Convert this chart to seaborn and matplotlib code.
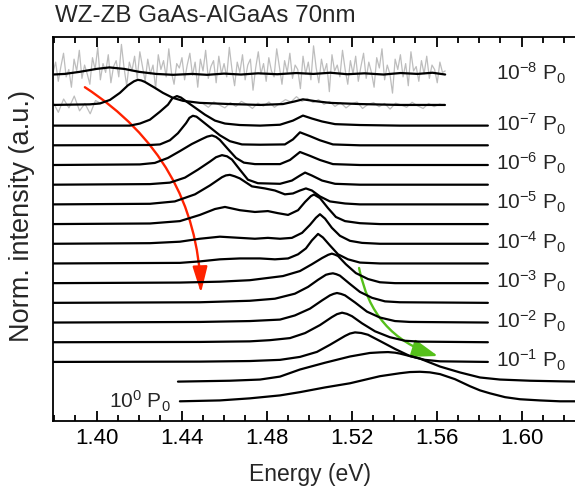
import numpy as np
import matplotlib
matplotlib.use("Agg")
import matplotlib.pyplot as plt
import seaborn as sns
from matplotlib.patches import FancyArrowPatch
from matplotlib.ticker import MultipleLocator, FormatStrFormatter

# normalized PL spectra (energy in eV, intensity normalized to max = 1)
# one spectrum per half decade of excitation power, 10^0 P0 ... 10^-8 P0
e_p0 = [1.4392, 1.4580, 1.4721, 1.4863, 1.4957, 1.5075, 1.5192, 1.5333, 1.5427, 1.5474,
        1.5521, 1.5568, 1.5616, 1.5686, 1.5757, 1.5804, 1.5851, 1.5922, 1.5992, 1.6086,
        1.6180, 1.6275]
i_p0 = [0, 0.03, 0.10, 0.20, 0.31, 0.47, 0.61, 0.85, 0.95, 0.99,
        1.0, 0.98, 0.92, 0.75, 0.51, 0.37, 0.27, 0.14, 0.07, 0.03,
        0, 0]

e_p05 = [1.4383, 1.4627, 1.4769, 1.4863, 1.4957, 1.5075, 1.5192, 1.5286, 1.5333, 1.5371,
         1.5404, 1.5427, 1.5521, 1.5616, 1.5710, 1.5804, 1.5898, 1.6039, 1.6180, 1.6275]
i_p05 = [0, 0.03, 0.07, 0.17, 0.41, 0.64, 0.85, 0.97, 0.99, 1.0,
         0.98, 0.95, 0.78, 0.51, 0.31, 0.14, 0.07, 0.03, 0.01, 0]

e_p1 = [1.3795, 1.4486, 1.4721, 1.4863, 1.4957, 1.5037, 1.5098, 1.5169, 1.5192, 1.5216,
        1.5245, 1.5277, 1.5333, 1.5404, 1.5474, 1.5545, 1.5616, 1.5841]
i_p1 = [0, 0.01, 0.03, 0.07, 0.17, 0.34, 0.58, 0.88, 0.96, 1.0,
        0.98, 0.92, 0.71, 0.44, 0.20, 0.07, 0.02, 0]

e_p15 = [1.3795, 1.4486, 1.4721, 1.4816, 1.4910, 1.4981, 1.5051, 1.5107, 1.5131, 1.5155,
         1.5178, 1.5202, 1.5249, 1.5310, 1.5380, 1.5451, 1.5521, 1.5841]
i_p15 = [0, 0.01, 0.03, 0.07, 0.14, 0.31, 0.58, 0.85, 0.95, 1.0,
         0.96, 0.88, 0.64, 0.37, 0.17, 0.05, 0.02, 0]

e_p2 = [1.3795, 1.4486, 1.4721, 1.4863, 1.4933, 1.5004, 1.5061, 1.5098, 1.5115, 1.5131,
        1.5150, 1.5169, 1.5216, 1.5272, 1.5333, 1.5404, 1.5474, 1.5841]
i_p2 = [0, 0.02, 0.05, 0.10, 0.24, 0.47, 0.75, 0.92, 0.97, 1.0,
        0.97, 0.92, 0.68, 0.37, 0.17, 0.05, 0.02, 0]

e_p25 = [1.3795, 1.4486, 1.4721, 1.4839, 1.4933, 1.4995, 1.5042, 1.5079, 1.5095, 1.5112,
         1.5128, 1.5145, 1.5192, 1.5239, 1.5296, 1.5357, 1.5427, 1.5841]
i_p25 = [0, 0.02, 0.07, 0.14, 0.31, 0.54, 0.78, 0.95, 0.98, 1.0,
         0.97, 0.92, 0.64, 0.37, 0.17, 0.05, 0.02, 0]

e_p3 = [1.3795, 1.4392, 1.4580, 1.4721, 1.4877, 1.4957, 1.5013, 1.5061, 1.5090, 1.5107,
        1.5120, 1.5136, 1.5173, 1.5220, 1.5277, 1.5333, 1.5404, 1.5841]
i_p3 = [0, 0.02, 0.05, 0.10, 0.24, 0.41, 0.64, 0.85, 0.96, 1.0,
        0.97, 0.92, 0.64, 0.34, 0.14, 0.03, 0, 0]

e_p35 = [1.3795, 1.4392, 1.4486, 1.4580, 1.4674, 1.4769, 1.4839, 1.4901, 1.4948, 1.4985,
         1.5013, 1.5042, 1.5065, 1.5098, 1.5136, 1.5183, 1.5239, 1.5333, 1.5841]
i_p35 = [0, 0.02, 0.07, 0.14, 0.17, 0.17, 0.14, 0.17, 0.31, 0.51,
         0.78, 1.0, 0.88, 0.61, 0.31, 0.14, 0.03, 0, 0]

e_p4 = [1.3795, 1.4251, 1.4392, 1.4486, 1.4580, 1.4674, 1.4745, 1.4806, 1.4863, 1.4919,
        1.4967, 1.5004, 1.5032, 1.5051, 1.5075, 1.5107, 1.5145, 1.5192, 1.5249, 1.5333, 1.5841]
i_p4 = [0, 0.02, 0.07, 0.17, 0.24, 0.20, 0.17, 0.20, 0.17, 0.20,
        0.37, 0.64, 0.88, 1.0, 0.85, 0.54, 0.27, 0.10, 0.03, 0, 0]

e_p45 = [1.3795, 1.4251, 1.4392, 1.4486, 1.4557, 1.4604, 1.4674, 1.4745, 1.4806, 1.4853,
         1.4901, 1.4948, 1.4981, 1.5009, 1.5023, 1.5051, 1.5089, 1.5126, 1.5169, 1.5239,
         1.5333, 1.5841]
i_p45 = [0, 0.02, 0.10, 0.31, 0.51, 0.58, 0.47, 0.41, 0.44, 0.37,
         0.31, 0.47, 0.75, 0.95, 1.0, 0.88, 0.54, 0.24, 0.10, 0.03,
         0, 0]

e_p5 = [1.3795, 1.4251, 1.4368, 1.4463, 1.4533, 1.4590, 1.4608, 1.4627, 1.4650, 1.4674,
        1.4731, 1.4792, 1.4839, 1.4886, 1.4924, 1.4957, 1.4985, 1.5013, 1.5051, 1.5098,
        1.5169, 1.5239, 1.5841]
i_p5 = [0, 0.02, 0.10, 0.34, 0.64, 0.92, 0.98, 1.0, 0.95, 0.88,
        0.61, 0.54, 0.47, 0.34, 0.37, 0.47, 0.54, 0.47, 0.27, 0.10,
        0.03, 0, 0]

e_p55 = [1.3795, 1.4251, 1.4345, 1.4416, 1.4477, 1.4533, 1.4562, 1.4590, 1.4614, 1.4637,
         1.4674, 1.4712, 1.4759, 1.4863, 1.4919, 1.4957, 1.4981, 1.5013, 1.5061, 1.5122,
         1.5239, 1.5841]
i_p55 = [0, 0.02, 0.07, 0.24, 0.51, 0.78, 0.93, 1.0, 0.96, 0.85,
         0.51, 0.17, 0.05, 0.03, 0.14, 0.31, 0.41, 0.31, 0.14, 0.03,
         0, 0]

e_p6 = [1.3795, 1.4204, 1.4274, 1.4336, 1.4392, 1.4448, 1.4496, 1.4520, 1.4543, 1.4562,
        1.4580, 1.4618, 1.4656, 1.4693, 1.4745, 1.4863, 1.4910, 1.4957, 1.5004, 1.5051,
        1.5112, 1.5239, 1.5841]
i_p6 = [0, 0.02, 0.07, 0.24, 0.47, 0.71, 0.88, 0.96, 1.0, 0.95,
        0.85, 0.54, 0.24, 0.08, 0.03, 0.03, 0.17, 0.44, 0.31, 0.17,
        0.03, 0, 0]

e_p65 = [1.3795, 1.4251, 1.4298, 1.4345, 1.4383, 1.4421, 1.4437, 1.4453, 1.4470, 1.4486,
         1.4533, 1.4580, 1.4627, 1.4684, 1.4769, 1.4886, 1.4924, 1.4957, 1.5004, 1.5051,
         1.5112, 1.5239, 1.5841]
i_p65 = [0, 0.01, 0.03, 0.17, 0.41, 0.75, 0.93, 1.0, 0.97, 0.88,
         0.61, 0.34, 0.14, 0.03, 0.02, 0.03, 0.20, 0.44, 0.31, 0.17,
         0.03, 0, 0]

e_p7 = [1.3795, 1.4157, 1.4204, 1.4251, 1.4298, 1.4336, 1.4357, 1.4378, 1.4397, 1.4416,
        1.4463, 1.4510, 1.4557, 1.4604, 1.4674, 1.4769, 1.4863, 1.4924, 1.4971, 1.5013,
        1.5061, 1.5122, 1.5239, 1.5427, 1.5841]
i_p7 = [0, 0, 0.07, 0.20, 0.47, 0.71, 0.93, 1.0, 0.95, 0.85,
        0.61, 0.37, 0.17, 0.07, 0.02, 0, 0.03, 0.17, 0.34, 0.24,
        0.14, 0.05, 0.02, 0, 0]

# the two lowest powers: smoothed curve (black) over the raw data (grey)
e_p75 = [1.3794, 1.3968, 1.4016, 1.4063, 1.4110, 1.4147, 1.4176, 1.4194, 1.4210, 1.4227,
         1.4274, 1.4312, 1.4359, 1.4406, 1.4486, 1.4627, 1.4769, 1.4877, 1.4933, 1.4971,
         1.5027, 1.5098, 1.5239, 1.5427, 1.5639]
i_p75 = [0, 0.02, 0.05, 0.17, 0.41, 0.66, 0.80, 0.85, 0.83, 0.78,
         0.58, 0.41, 0.24, 0.14, 0.07, 0.03, 0, 0.03, 0.12, 0.19,
         0.13, 0.07, 0.03, 0, 0]
raw_p75_left = [0.10, -0.25, 0.20, -0.10, 0.30, -0.20, 0.05, -0.30, 0.15, 0.05]
raw_p75_right = [0.05, -0.08, 0.10, 0.00, -0.10, 0.08, -0.05, 0.12, 0.02, -0.12,
                 0.06, -0.04, 0.10, -0.08, 0.05, 0.18, 0.10, 0.28, 0.12, 0.22,
                 0.08, 0.18, 0.02, 0.12, -0.05, 0.08, -0.10, 0.04, 0.10, -0.12,
                 0.02, 0.08, -0.06, 0.05, -0.14, 0.06, 0.00, -0.08, 0.09, -0.03,
                 -0.12, 0.05, -0.06, 0.03, -0.02]

e_p8 = [1.3795, 1.3850, 1.3920, 1.4000, 1.4060, 1.4130, 1.4200, 1.4280, 1.4360, 1.4450,
        1.4520, 1.4600, 1.4680, 1.4760, 1.4850, 1.4940, 1.5020, 1.5100, 1.5180, 1.5260,
        1.5350, 1.5430, 1.5510, 1.5580, 1.5640]
i_p8 = [0.03, 0.05, 0.12, 0.22, 0.27, 0.22, 0.12, 0.05, 0.02, 0.05,
        0.02, 0.06, 0.03, 0.07, 0.04, 0.08, 0.05, 0.09, 0.04, 0.07,
        0.03, 0.08, 0.05, 0.09, 0.03]
raw_p8 = [0.10, 0.45, -0.20, 0.30, 0.75, -0.05, 0.20, -0.40, 0.55, 0.15,
          0.85, -0.10, 0.35, 0.05, -0.30, 0.60, 0.20, 0.95, -0.15, 0.40,
          0.10, 0.70, -0.25, 0.30, 0.50, -0.05, 1.05, 0.25, -0.35, 0.45,
          0.15, 0.65, -0.10, 0.80, 0.30, -0.20, 0.55, 0.05, 0.35, -0.45,
          0.70, 0.20, 0.50, -0.05, 0.90, 0.10, -0.30, 0.40, 0.25, 0.60,
          -0.15, 0.35, 0.75, 0.00, 0.45, -0.40, 0.55, 0.15, 0.85, -0.10,
          0.30, 0.50, -0.25, 0.65, 0.05, 0.40, -0.05, 0.95, 0.20, -0.35,
          0.45, 0.10, 0.70, -0.15, 0.35, 0.55, -0.50, 0.25, 0.80, 0.05,
          0.40, -0.20, 0.60, 0.15, -0.05, 0.90, 0.30, -0.30, 0.50, 0.10,
          0.75, -0.10, 0.35, 0.20, -0.45, 0.65, 0.05, 0.45, -0.15, 1.00,
          0.25, -0.25, 0.55, 0.10, 0.40, -0.55, 0.70, 0.15, 0.35, -0.05,
          0.85, 0.20, -0.30, 0.50, 0.05, 0.65, -0.20, 0.30, 0.75, -0.10,
          0.45, 0.10, -0.40, 0.60, 0.25, 0.90, -0.15, 0.35, 0.05, -0.60,
          0.55, 0.20, 0.70, -0.05, 0.40, -0.35, 0.80, 0.15, 0.30, -0.20,
          0.50, 0.05, 0.65, -0.10, 0.35, 0.20, -0.25, 0.45, 0.10, 0.15]

# vertical offsets of the stacked spectra (bottom to top)
offsets = [1, 2, 3, 4, 5, 6, 7, 8, 9, 10, 11, 12, 13, 14, 15, 16.05, 17.55]
label_powers = [-8, -7, -6, -5, -4, -3, -2, -1]
label_offsets = [17.55, 15, 13, 11, 9, 7, 5, 3]
scale = 1.5

spectra = [(e_p0, i_p0), (e_p05, i_p05), (e_p1, i_p1), (e_p15, i_p15), (e_p2, i_p2),
           (e_p25, i_p25), (e_p3, i_p3), (e_p35, i_p35), (e_p4, i_p4), (e_p45, i_p45),
           (e_p5, i_p5), (e_p55, i_p55), (e_p6, i_p6), (e_p65, i_p65), (e_p7, i_p7),
           (e_p75, i_p75), (e_p8, i_p8)]

sns.set_theme(style="white", rc={
    'xtick.direction': 'in', 'xtick.top': True, 'xtick.bottom': True,
    'xtick.major.size': 7, 'xtick.minor.size': 4,
    'xtick.major.width': 1.3, 'xtick.minor.width': 1.3,
    'xtick.minor.visible': True, 'xtick.color': 'black',
    'axes.edgecolor': 'black', 'axes.linewidth': 1.3,
    'axes.axisbelow': False,
})
plt.rcParams['font.family'] = ['Liberation Sans', 'DejaVu Sans']
plt.rcParams['mathtext.default'] = 'regular'

fig = plt.figure(figsize=(5.75, 4.91), dpi=100)
ax = fig.add_axes([53 / 575, 70 / 491, 532 / 575, 384 / 491])

grey = '#bdbdbd'
# raw data of the lowest powers
e_raw8 = np.linspace(1.3795, 1.564, len(raw_p8))
sns.lineplot(x=e_raw8, y=offsets[16] + scale * np.array(raw_p8), ax=ax,
             color=grey, lw=0.9, estimator=None, sort=False)
e_raw75l = np.linspace(1.3795, 1.402, len(raw_p75_left))
e_raw75r = np.linspace(1.45, 1.564, len(raw_p75_right))
sns.lineplot(x=e_raw75l, y=offsets[15] + scale * np.array(raw_p75_left), ax=ax,
             color=grey, lw=0.9, estimator=None, sort=False)
sns.lineplot(x=e_raw75r, y=offsets[15] + scale * np.array(raw_p75_right), ax=ax,
             color=grey, lw=0.9, estimator=None, sort=False)

for (e, i), off in zip(spectra, offsets):
    sns.lineplot(x=e, y=off + scale * np.array(i), ax=ax, color='black',
                 lw=1.6, estimator=None, sort=False)

# power labels
for p, off in zip(label_powers, label_offsets):
    ax.text(1.5879, off - 0.28, r'10$^{%d}$ P$_0$' % p, fontsize=15,
            ha='left', va='baseline')
ax.text(1.4350, offsets[0] - 0.35, r'10$^{0}$ P$_0$', fontsize=15,
        ha='right', va='baseline')

# arrows
red = FancyArrowPatch((1.3945, 16.95), (1.4491, 6.50), connectionstyle='arc3,rad=-0.26',
                      arrowstyle='-|>,head_length=1.6,head_width=0.45', mutation_scale=10,
                      color='#ff2200', lw=1.7, shrinkA=0, shrinkB=0)
green = FancyArrowPatch((1.5235, 7.77), (1.5606, 3.30), connectionstyle='arc3,rad=0.3',
                        arrowstyle='-|>,head_length=1.6,head_width=0.55', mutation_scale=10,
                        color='#55c01a', lw=1.7, shrinkA=0, shrinkB=0)
ax.add_patch(red)
ax.add_patch(green)

ax.set_xlim(1.3795, 1.6298)
ax.set_ylim(0, 19.5)
ax.xaxis.set_major_locator(MultipleLocator(0.04))
ax.xaxis.set_minor_locator(MultipleLocator(0.01))
ax.xaxis.set_major_formatter(FormatStrFormatter('%.2f'))
ax.set_yticks([])
ax.tick_params(axis='x', which='major', labelsize=16, pad=5)

ax.set_xlabel('Energy (eV)', fontsize=16.5)
ax.xaxis.set_label_coords(0.483, -0.109)
fig.text(22 / 575, 1 - 216 / 491, 'Norm. intensity (a.u.)', rotation=90,
         fontsize=19.5, ha='center', va='center')
fig.text(55 / 575, 1 - 16 / 491, 'WZ-ZB GaAs-AlGaAs 70nm', fontsize=17.4,
         ha='left', va='center')

fig.savefig('out.png', dpi=100)
